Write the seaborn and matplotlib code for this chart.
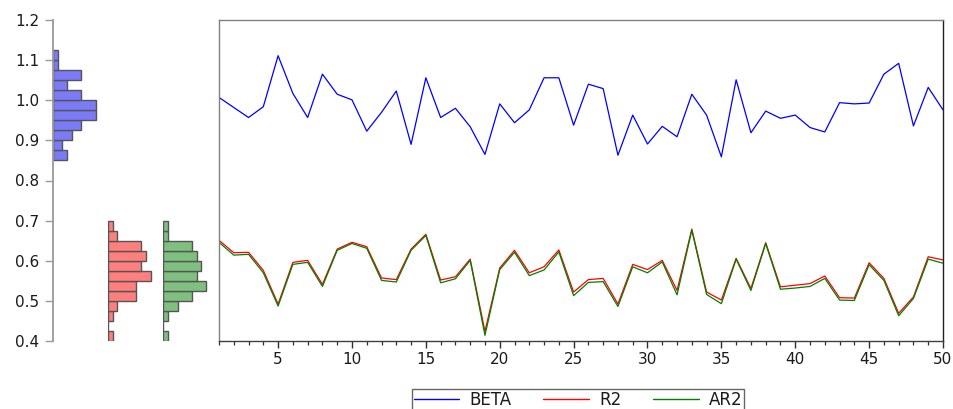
import numpy as np
import pandas as pd
import matplotlib
matplotlib.use("Agg")
import matplotlib.pyplot as plt
from matplotlib.lines import Line2D
import seaborn as sns

# ---------------- data ----------------
obs = list(range(1, 51))
beta = [1.007, 0.982, 0.957, 0.984, 1.111, 1.017, 0.957, 1.065, 1.015, 1.001,
        0.923, 0.970, 1.023, 0.890, 1.056, 0.957, 0.980, 0.934, 0.865, 0.991,
        0.944, 0.976, 1.056, 1.056, 0.938, 1.040, 1.029, 0.863, 0.963, 0.891,
        0.935, 0.909, 1.015, 0.963, 0.859, 1.051, 0.919, 0.973, 0.955, 0.963,
        0.932, 0.921, 0.994, 0.991, 0.993, 1.065, 1.092, 0.936, 1.032, 0.976]
r2 = [0.651, 0.620, 0.621, 0.576, 0.492, 0.596, 0.601, 0.541, 0.629, 0.646,
      0.635, 0.557, 0.553, 0.629, 0.666, 0.552, 0.560, 0.604, 0.424, 0.582,
      0.626, 0.570, 0.585, 0.627, 0.522, 0.553, 0.556, 0.492, 0.591, 0.578,
      0.601, 0.526, 0.679, 0.522, 0.502, 0.606, 0.531, 0.645, 0.535, 0.539,
      0.543, 0.562, 0.508, 0.507, 0.595, 0.556, 0.469, 0.510, 0.610, 0.602]
ar2 = [0.646, 0.614, 0.616, 0.570, 0.487, 0.591, 0.596, 0.536, 0.626, 0.643,
       0.631, 0.551, 0.547, 0.626, 0.663, 0.545, 0.555, 0.601, 0.414, 0.578,
       0.621, 0.563, 0.577, 0.622, 0.513, 0.546, 0.548, 0.486, 0.585, 0.570,
       0.597, 0.515, 0.676, 0.516, 0.493, 0.604, 0.526, 0.643, 0.529, 0.532,
       0.536, 0.556, 0.502, 0.501, 0.590, 0.551, 0.463, 0.506, 0.604, 0.594]
series_names = ["BETA", "R2", "AR2"]
y_ticks = [0.4, 0.5, 0.6, 0.7, 0.8, 0.9, 1.0, 1.1, 1.2]
x_major = [5, 10, 15, 20, 25, 30, 35, 40, 45, 50]
bin_width = 0.025
beta_bin_range = (0.85, 1.125)
r2_bin_range = (0.40, 0.70)

df = pd.DataFrame({"obs": obs, "BETA": beta, "R2": r2, "AR2": ar2})

# ---------------- style ----------------
sns.set_style("white")
plt.rcParams["font.family"] = ["DejaVu Sans"]
plt.rcParams["axes.linewidth"] = 1.0

W, H = 954, 409
fig = plt.figure(figsize=(W / 100, H / 100), dpi=100)

top_px, bot_px = 20, 341
def fy(p):
    return 1 - p / H

ax_bottom = fy(bot_px)
ax_height = fy(top_px) - fy(bot_px)

line_colors = {"BETA": "#0000FF", "R2": "#FF0000", "AR2": "#008000"}
bar_colors = {"BETA": "#7B7BF7", "R2": "#FF7F7F", "AR2": "#7FBF7F"}

def edges(lo, hi):
    n = int(round((hi - lo) / bin_width))
    return np.round(np.linspace(lo, hi, n + 1), 4)

# ---------------- histograms ----------------
px_per_count = 4.75
hist_w_px = 50
hist_specs = [("BETA", 53, edges(*beta_bin_range)),
              ("R2", 108, edges(*r2_bin_range)),
              ("AR2", 163.3, edges(*r2_bin_range))]
hist_axes = []
for name, left_px, bins in hist_specs:
    ax = fig.add_axes([left_px / W, ax_bottom, hist_w_px / W, ax_height])
    sns.histplot(data=df, y=name, bins=bins, ax=ax, color=bar_colors[name],
                 edgecolor="#555555", linewidth=1.0, alpha=1.0)
    ax.set_xlim(0, hist_w_px / px_per_count)
    ax.set_ylim(0.4, 1.2)
    ax.set_xlabel("")
    ax.set_ylabel("")
    for s in ax.spines.values():
        s.set_visible(False)
    ax.set_xticks([])
    ax.patch.set_alpha(0)
    hist_axes.append(ax)

axb = hist_axes[0]
axb.spines["left"].set_visible(True)
axb.spines["left"].set_color("#9a9a9a")
axb.spines["left"].set_linewidth(1.3)
axb.set_yticks(y_ticks)
axb.set_yticklabels([f"{v:.1f}" for v in y_ticks])
axb.tick_params(axis="y", direction="out", length=6, width=1.0,
                color="#9a9a9a", pad=4, labelsize=11, labelcolor="#1a1a1a",
                left=True)
for ax in hist_axes[1:]:
    ax.set_yticks([])

# ---------------- main line chart ----------------
axm = fig.add_axes([219 / W, ax_bottom, (943 - 219) / W, ax_height])
for name in series_names:
    sns.lineplot(data=df, x="obs", y=name, ax=axm, color=line_colors[name],
                 linewidth=0.9, legend=False)
axm.set_xlim(1, 50)
axm.set_ylim(0.4, 1.2)
axm.set_xlabel("")
axm.set_ylabel("")
axm.set_yticks([])
axm.set_xticks(x_major)
axm.set_xticks(obs, minor=True)
axm.set_xticklabels([str(v) for v in x_major])
axm.tick_params(axis="x", which="major", direction="out", length=5, width=1.0,
                color="#303030", pad=3, labelsize=11, labelcolor="#1a1a1a",
                bottom=True)
axm.tick_params(axis="x", which="minor", direction="out", length=3, width=0.9,
                color="#303030", bottom=True)
for side, col in [("top", "#808080"), ("left", "#808080"),
                  ("right", "#202020"), ("bottom", "#404040")]:
    axm.spines[side].set_color(col)
    axm.spines[side].set_linewidth(1.0)

# ---------------- legend ----------------
handles = [Line2D([0], [0], color=line_colors[n], linewidth=1.0) for n in series_names]
leg = fig.legend(handles, series_names, loc="upper left",
                 bbox_to_anchor=(412 / W, fy(389)), ncol=3, frameon=True,
                 fancybox=False, edgecolor="#404040", borderaxespad=0,
                 handlelength=2.75, handletextpad=0.6, columnspacing=1.9,
                 fontsize=12, borderpad=0.1)
leg.get_frame().set_linewidth(1.0)
for t in leg.get_texts():
    t.set_color("#1a1a1a")

fig.savefig("out.png", dpi=100)
